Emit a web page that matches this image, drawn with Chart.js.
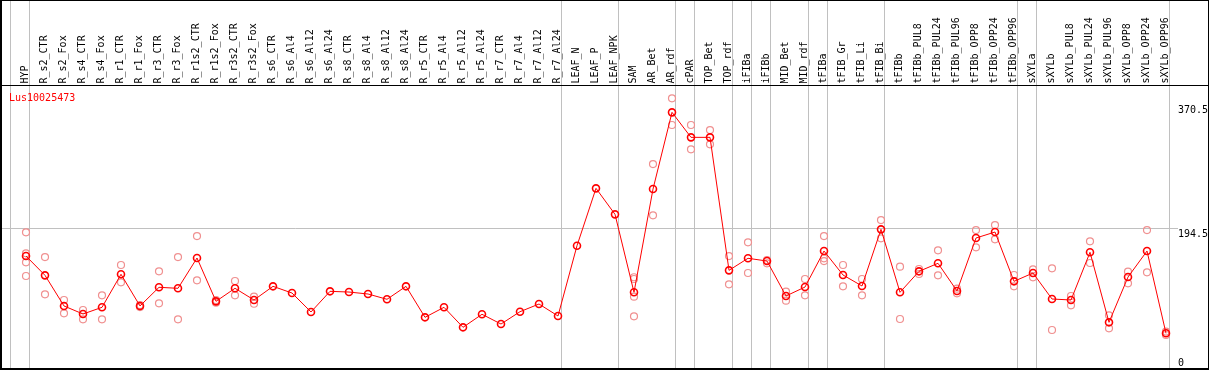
<!DOCTYPE html>
<html>
<head>
<meta charset="utf-8">
<script src="https://cdn.jsdelivr.net/npm/chart.js@4.4.1/dist/chart.umd.min.js"></script>
<style>
  html, body { margin: 0; padding: 0; background: #fff; }
  canvas { display: block; }
</style>
</head>
<body>
<canvas id="expr-chart" width="1209" height="370"></canvas>
<script>
// Gene shown in the plot
const geneName = 'Lus10025473';

// Sample names, left to right
const categories = [
    'HYP', 'R_s2_CTR', 'R_s2_Fox', 'R_s4_CTR', 'R_s4_Fox', 'R_r1_CTR', 'R_r1_Fox',
    'R_r3_CTR', 'R_r3_Fox', 'R_r1s2_CTR', 'R_r1s2_Fox', 'R_r3s2_CTR', 'R_r3s2_Fox',
    'R_s6_CTR', 'R_s6_Al4', 'R_s6_Al12', 'R_s6_Al24', 'R_s8_CTR', 'R_s8_Al4',
    'R_s8_Al12', 'R_s8_Al24', 'R_r5_CTR', 'R_r5_Al4', 'R_r5_Al12', 'R_r5_Al24',
    'R_r7_CTR', 'R_r7_Al4', 'R_r7_Al12', 'R_r7_Al24', 'LEAF_N', 'LEAF_P', 'LEAF_NPK',
    'SAM', 'AR_Bet', 'AR_rdf', 'cPAR', 'TOP_Bet', 'TOP_rdf', 'iFIBa', 'iFIBb',
    'MID_Bet', 'MID_rdf', 'tFIBa', 'tFIB_Gr', 'tFIB_Li', 'tFIB_Bi', 'tFIBb',
    'tFIBb_PUL8', 'tFIBb_PUL24', 'tFIBb_PUL96', 'tFIBb_OPP8', 'tFIBb_OPP24', 'tFIBb_OPP96',
    'sXYLa', 'sXYLb', 'sXYLb_PUL8', 'sXYLb_PUL24', 'sXYLb_PUL96', 'sXYLb_OPP8',
    'sXYLb_OPP24', 'sXYLb_OPP96'
];

// Mean expression per sample
const meanValues = [
    156.1, 128.7, 85.2, 73.8, 83.3, 130.2, 85.2,
    111.7, 110.3, 153.3, 91.8, 110.3, 93.7,
    113.1, 103.6, 76.7, 106.0, 105.0, 102.2,
    94.7, 113.1, 69.1, 83.3, 54.9, 73.4,
    59.6, 77.1, 88.0, 71.0, 170.8, 252.2, 215.3,
    104.6, 251.2, 360.1, 324.6, 324.6, 135.8, 152.9, 149.0,
    99.4, 112.1, 163.2, 129.2, 113.6, 194.0, 104.6,
    134.4, 145.8, 106.5, 181.7, 190.2, 120.2,
    132.0, 95.1, 93.7, 161.4, 62.0, 126.3,
    163.2, 46.4
];

// Single replicate values per sample (empty where none are shown)
const replicateValues = [
    [189.8, 160.0, 147.2, 127.8], [154.7, 101.8], [93.7, 74.8], [79.5, 66.3], [100.4, 66.3],
    [143.4, 118.8], [86.6, 83.7], [134.4, 89.0], [154.7, 66.3], [184.5, 121.6],
    [93.7, 89.9], [120.7, 100.4], [98.4, 88.4],
    [], [], [], [], [], [], [], [], [], [], [], [], [], [], [], [], [], [], [],
    [126.0, 123.5, 98.4, 70.5], [286.7, 213.9], [380.0, 342.1], [342.1, 307.6], [335.0, 314.7],
    [156.1, 116.0], [175.6, 132.0], [150.5, 145.8], [105.5, 92.7], [123.5, 100.4],
    [184.5, 152.9, 149.0], [143.4, 113.1], [123.5, 100.4], [207.2, 181.3], [141.0, 66.7],
    [137.7, 130.6], [164.2, 128.7], [109.8, 103.2], [193.0, 168.5], [200.1, 179.8], [129.2, 113.1],
    [137.3, 125.9], [138.7, 51.1], [99.4, 86.2], [177.0, 146.2], [72.0, 53.5], [133.9, 117.4],
    [193.0, 133.0], [48.8, 44.0]
];

// Index of the last sample in each group (-1 = line before the first sample)
const groupEnds = [-1, 0, 28, 31, 34, 35, 37, 38, 39, 41, 42, 45, 52, 53, 60];

// Y axis labels and the one grid line
const yTicks = [0, 194.5, 370.5];
const yGridValue = 194.5;

const FONT = '10px "DejaVu Sans Mono", monospace';

// Frame, separators, rotated sample names and axis labels
const framePlugin = {
    id: 'framePlugin',
    beforeDraw(chart) {
        const { ctx, width, height } = chart;
        ctx.save();
        ctx.fillStyle = '#fff';
        ctx.fillRect(0, 0, width, height);
        ctx.restore();
    },
    beforeDatasetsDraw(chart) {
        const { ctx, chartArea, scales: { x, y } } = chart;
        ctx.save();
        ctx.strokeStyle = '#c0c0c0';
        ctx.lineWidth = 1;

        // group separators run through the header too
        groupEnds.forEach(i => {
            const px = Math.floor(x.getPixelForValue(i + 0.21)) + 0.5;
            ctx.beginPath();
            ctx.moveTo(px, 0);
            ctx.lineTo(px, chartArea.bottom);
            ctx.stroke();
        });

        const gy = Math.floor(y.getPixelForValue(yGridValue)) + 0.5;
        ctx.beginPath();
        ctx.moveTo(chartArea.left, gy);
        ctx.lineTo(chartArea.right + 8, gy);
        ctx.stroke();
        ctx.restore();
    },
    afterDraw(chart) {
        const { ctx, width, height, chartArea, scales: { x, y } } = chart;
        ctx.save();
        ctx.font = FONT;

        // sample names, reading bottom to top
        ctx.fillStyle = '#000';
        ctx.textAlign = 'left';
        ctx.textBaseline = 'alphabetic';
        categories.forEach((name, i) => {
            ctx.save();
            ctx.translate(x.getPixelForValue(i) + 2, 83.5);
            ctx.rotate(-Math.PI / 2);
            ctx.fillText(name, 0, 0);
            ctx.restore();
        });

        // y labels on the right
        yTicks.forEach(v => {
            const base = Math.min(y.getPixelForValue(v) + 8, chartArea.bottom - 3);
            ctx.fillText(String(v), chartArea.right + 8, base);
        });

        // gene name
        ctx.fillStyle = '#ff0000';
        ctx.fillText(geneName, 9, 100.5);

        // black frame
        ctx.fillStyle = '#000';
        ctx.fillRect(0, 0, width, 1);
        ctx.fillRect(0, 85, width, 1);
        ctx.fillRect(0, 0, 2, height);
        ctx.fillRect(width - 1, 0, 1, height);
        ctx.fillRect(0, height - 2, width, 2);
        ctx.restore();
    }
};

const meanPoints = meanValues.map((v, i) => ({ x: i, y: v }));
const replicatePoints = replicateValues.flatMap((reps, i) => reps.map(v => ({ x: i, y: v })));

new Chart(document.getElementById('expr-chart'), {
    type: 'line',
    data: {
        datasets: [
            {
                label: 'mean',
                data: meanPoints,
                borderColor: '#ff0000',
                borderWidth: 1,
                pointRadius: 3.5,
                pointBorderWidth: 1.6,
                pointBorderColor: '#ff0000',
                pointBackgroundColor: 'rgba(0,0,0,0)',
                tension: 0,
                clip: false,
                order: 0
            },
            {
                label: 'replicates',
                data: replicatePoints,
                showLine: false,
                pointRadius: 3.5,
                pointBorderWidth: 1.2,
                pointBorderColor: '#f09090',
                pointBackgroundColor: 'rgba(0,0,0,0)',
                clip: false,
                order: 1
            }
        ]
    },
    options: {
        responsive: false,
        animation: false,
        devicePixelRatio: 1,
        layout: { autoPadding: false, padding: { top: 86, left: 1, right: 39, bottom: 1 } },
        plugins: {
            legend: { display: false },
            tooltip: { enabled: false }
        },
        scales: {
            x: { type: 'linear', display: false, min: -1.3158, max: 60.2105 },
            y: { type: 'linear', display: false, min: -4.26, max: 397.5 }
        }
    },
    plugins: [framePlugin]
});
</script>
</body>
</html>
